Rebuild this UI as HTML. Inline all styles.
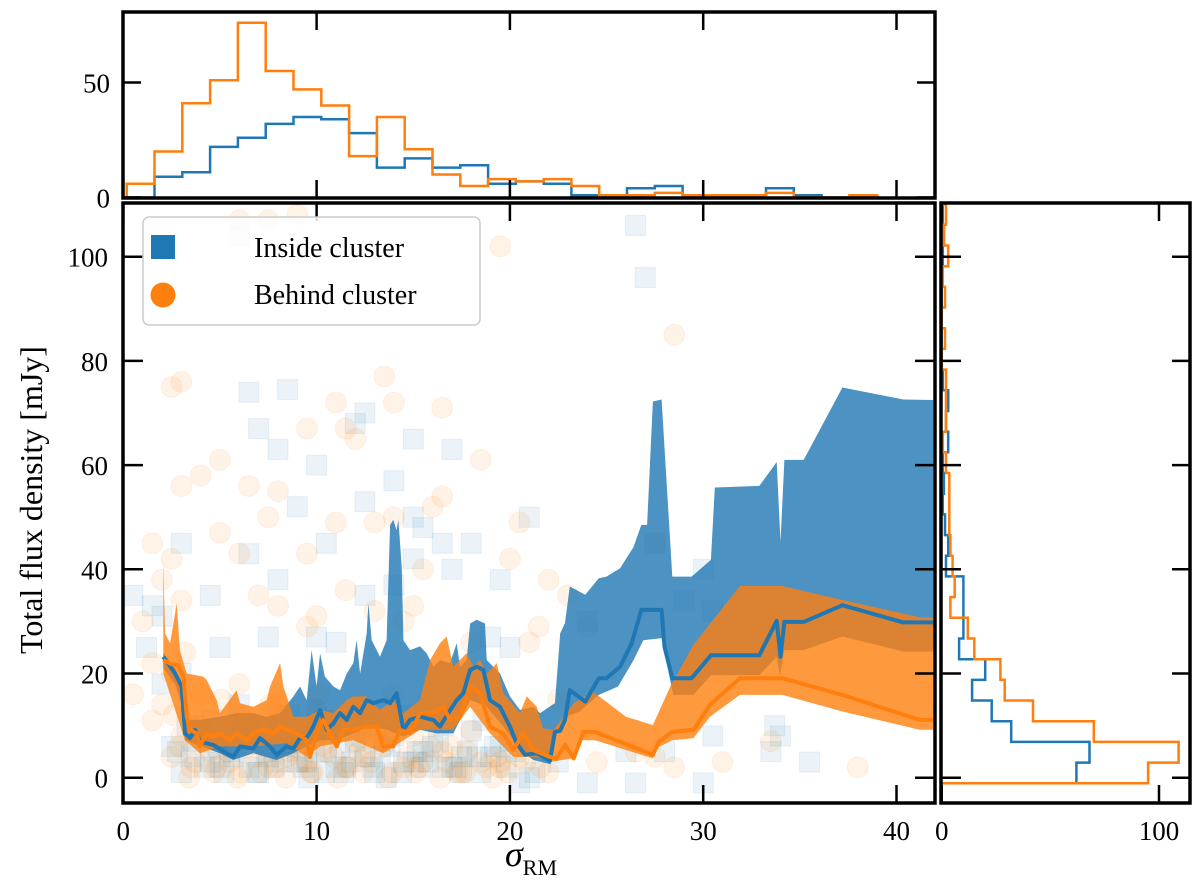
<!DOCTYPE html>
<html><head><meta charset="utf-8"><style>
html,body{margin:0;padding:0;background:#fff}
svg{display:block;font-family:"Liberation Serif",serif}
</style></head><body>
<svg id="chart" width="1200" height="896" viewBox="0 0 1200 896" xmlns="http://www.w3.org/2000/svg">
<defs>
<clipPath id="mainClip"><rect x="123" y="203" width="812" height="600"/></clipPath>
</defs>
<g id="scatterLayer" clip-path="url(#mainClip)"></g>
<g id="bandLayer" clip-path="url(#mainClip)"></g>
<g id="lineLayer" clip-path="url(#mainClip)"></g>
<g id="topHist"></g>
<g id="rightHist"></g>
<g id="axesLayer"></g>

<g>
<rect x="143" y="217" width="337" height="108" rx="6" fill="#fff" fill-opacity="0.85" stroke="#cccccc" stroke-width="1.5"/>
<rect x="151" y="235" width="24" height="24" fill="#1f77b4"/>
<text x="254" y="257" font-size="28">Inside cluster</text>
<circle cx="163" cy="295" r="12.5" fill="#ff7f0e"/>
<text x="254" y="304" font-size="28">Behind cluster</text>
</g>

<text x="0" y="0" transform="translate(42,500) rotate(-90)" text-anchor="middle" font-size="32">Total flux density [mJy]</text>
<text x="505" y="866" font-size="36"><tspan font-style="italic">σ</tspan><tspan font-size="22" dy="9">RM</tspan></text>
</svg>
<script>
// ---------- data ----------
var insideUpperX=[2.07,2.68,3.02,3.19,3.97,5.0,5.86,6.73,7.42,8.11,8.8,9.14,9.49,9.74,10.0,10.18,10.43,10.87,11.21,11.56,11.9,12.07,12.25,12.59,12.68,12.85,13.28,13.62,13.8,13.97,14.14,14.23,14.4,14.49,14.83,15.35,15.69,16.04,16.38,16.9,17.25,17.42,17.76,17.94,18.28,18.71,18.8,19.49,20.0,20.52,21.21,21.56,22.2,22.33,22.6,22.85,23.1,23.9,24.6,25.0,25.7,26.4,26.8,27.1,27.4,27.85,28.4,29.4,30.4,30.6,32.9,33.8,34.0,34.2,35.2,37.2,40.35,41.9];
var insideUpperY=[24,21,18,11.1,11.1,11.7,12.4,12.4,11.7,12.4,15.6,17.5,14.9,24.5,17.5,23.9,19.4,17.5,16.8,20.0,22.0,26.4,20.0,27.7,33.5,26.4,23.2,26.4,48.5,49.5,47.5,49.5,40.5,26.4,24.5,25.2,23.9,21.3,22.6,22.0,25.8,21.3,22.6,29.6,30.3,29.6,22.6,20.0,15.6,13.0,13.6,12.4,14.0,14.3,27.7,29.7,36.7,35.1,38.3,38.6,40.2,44.3,48.5,48.5,72.2,72.6,38.6,38.6,41.8,55.7,56,60.6,45.3,61,61,74.9,72.6,72.5];
var insideLowerX=[2.07,2.68,3.02,3.19,5.0,5.69,6.73,7.93,8.8,9.49,10.18,11.04,11.9,12.76,13.62,14.49,15.35,16.21,17.07,17.94,18.8,19.66,20.52,21.21,22.1,22.33,22.9,23.6,24.6,25.6,26.4,26.9,27.85,28.45,29.5,30.4,32.9,33.8,33.97,34.2,35.2,37.2,40.35,41.9];
var insideLowerY=[21,18,14,7.2,4.7,3.4,4.7,3.4,4.7,6.0,7.2,7.2,8.5,9.8,9.2,7.9,9.2,8.5,8.5,14.9,13.6,9.8,5.3,3.4,2.6,7.9,11.7,12.7,15.9,17.5,22.6,26.4,26.8,15.9,15.9,19.7,19.7,23.2,19.7,24.5,24.5,27.1,24.2,24.2];
var insideMedX=[2.07,2.68,3.02,3.19,3.45,3.71,3.97,4.66,5.35,5.69,6.04,6.73,7.07,7.59,7.93,8.45,8.8,9.14,9.49,9.83,10.18,10.52,10.87,11.21,11.56,11.9,12.25,12.59,12.93,13.45,13.8,14.14,14.49,14.83,15.35,16.04,16.38,16.82,17.25,17.59,17.94,18.28,18.63,18.97,19.49,20.0,20.35,20.78,21.39,22.07,22.33,22.6,22.85,23.1,23.9,24.6,25.0,25.7,26.3,26.8,27.85,28.0,28.4,29.4,30.4,32.9,33.8,34.0,34.2,35.2,37.2,40.35,41.9];
var insideMedY=[23.2,20.0,17.5,8.5,7.6,9.2,6.9,6.3,4.7,4.0,6.0,5.6,7.6,6.0,4.4,6.0,5.6,7.6,7.6,9.8,13.0,9.2,10.4,12.4,11.1,13.6,12.4,14.9,14.3,14.9,14.3,16.2,9.2,11.1,11.7,11.1,9.8,12.4,14.9,16.2,20.7,21.3,20.7,14.9,13.6,9.8,6.6,4.4,4.7,3.2,8.8,9,11.1,16.8,14.6,19.1,19.1,21.3,25.8,32.2,32.2,25.1,19.1,19.1,23.5,23.5,30.1,23.2,29.9,29.9,33.1,29.8,29.8];
var behindUpperX=[2.07,2.16,2.42,2.76,2.93,3.28,4.14,4.31,4.83,5.0,5.86,6.04,6.73,7.42,7.59,8.11,8.28,8.8,9.49,10.18,10.87,11.56,11.9,12.59,13.28,13.97,14.49,15.35,15.87,16.38,16.73,17.07,17.76,18.11,18.45,18.8,19.32,19.66,20.52,20.87,21.39,21.7,22.25,22.8,23.3,24.3,26.0,27.4,28.3,29.5,31.9,34.1,37.2,41.2,41.9];
var behindUpperY=[41.8,27.7,25.8,33.5,24.5,20.0,19.4,18.8,14.9,12.4,16.8,14.3,13.6,14.9,17.5,22.0,17.5,11.7,11.7,13.0,12.4,14.9,15.6,15.6,13.0,14.9,12.4,14.9,22.6,25.8,27.1,21.3,23.9,21.3,22.6,20.0,22.0,16.2,12.4,15.6,13.6,9.5,9.2,11.7,14.3,16.5,11.7,10.1,17.5,25.5,36.8,36.8,34.1,30.8,30.7];
var behindLowerX=[2.07,3.19,3.97,5.0,6.73,8.45,9.49,10.18,11.9,13.45,15.35,17.07,17.94,18.97,20.18,21.39,22.07,23.2,23.7,24.4,27.4,27.7,28.4,29.5,30.35,31.9,34.1,37.2,41.2,41.9];
var behindLowerY=[20,7.2,4.7,6.0,6.0,6.6,4.0,6.0,7.2,4.7,9.2,9.2,13.6,8.5,4.0,4.0,3.0,3.7,7.2,7.2,3.7,5.9,7.2,7.6,11.7,15.9,15.9,12.7,9.2,9.2];
var behindMedX=[2.07,2.42,2.85,3.11,3.28,3.45,3.8,3.97,4.31,4.66,5.0,5.52,5.86,6.38,6.73,7.24,7.76,8.11,8.45,8.97,9.49,9.66,10.0,10.35,10.69,11.04,11.38,11.9,12.59,13.11,13.45,13.97,14.31,14.83,15.35,16.04,16.56,16.9,17.42,17.94,18.45,18.97,19.66,20.18,20.69,21.21,22.07,22.4,22.85,23.3,23.8,24.4,27.4,27.7,28.4,29.5,30.35,31.9,34.1,37.2,41.2,41.9];
var behindMedY=[22.6,21.9,21.6,19.4,11.7,9.2,8.5,6.0,8.5,7.9,8.5,7.2,8.5,7.2,8.5,9.2,8.5,9.8,9.2,8.5,7.2,4.0,8.5,11.1,8.5,6.0,9.2,9.2,9.8,9.8,6.0,6.0,9.2,8.5,12.4,12.4,13.6,11.1,11.7,17.5,16.2,9.8,8.5,5.3,8.5,5.3,4.0,3.7,6.3,3.7,8.8,8.8,4.4,6.9,8.8,9.2,14,19.1,19.1,15.9,11.1,11.1];

var insideScatterX=[6,26.5,27,6.5,8.5,7,12.5,12,8,15,17,10,14,9,12.5,15,15.5,18,16.5,21,10.5,3,6.5,15,17,4.5,8,12.5,14,19.5,20,19,1.5,2,7.5,10,11,5,24,27.5,29,30,30.5,26,28,30.5,33.5,34,35.5,33.7,24,26.5,30,20.5,0.5,3,6,8,2.5,3.5,4.5,5.5,6.5,7.5,8.5,9.5,10.5,11.5,12.5,13.5,14.5,15.5,16.5,17.5,18.5,19.5,3,5,7,9,11,13,15,17,19,21,4,6,8,10,12,14,16,18,20,22.5,2,1.2,
2.8,3.6,4.2,4.9,5.7,6.2,6.9,7.4,8.2,8.9,9.3,9.9,10.4,11.2,11.8,12.3,12.9,13.3,13.8,14.4,15.2,15.8,16.3,17.2,17.8,18.3,19.2,19.8,20.3,21.3,3.3,4.6,6.6,8.6,10.6,12.6,14.6,16.6,18.6,5.2,7.8,9.6,11.4,13.6,15.4,17.4];
var insideScatterY=[104,106,96,74,74.5,67,70,68,63,65,63,60,57,52,53,50,48,45,45,50,45,45,43,42,40,35,38,35,37,38,25,27,33,31,27,27,26,25,30,45,34,40,32,5,5,8,5,8,3,10,-1,-1,-1,-1,35,20,14,12,6,4,3,5,2,4,6,3,5,2,4,7,3,5,2,4,1,6,1,2,1,3,2,1,3,2,4,0,8,9,8,9,7,8,6,9,7,3,18,25,
5,7,2,6,4,8,1,5,3,7,2,5,1,6,3,8,2,4,6,1,5,3,7,2,5,4,6,2,5,1,10,11,10,12,11,10,12,10,11,1,2,0,1,0,2,1];
var behindScatterX=[6,7.5,9,19.5,28.5,13.5,2.5,3,14,16.5,11,9.5,12,11.5,5,4,3,18.5,6.5,8,16,16.5,7.5,11,14,13,20.5,5,6,1.5,2.5,15.5,20,9.5,27.5,2,3,11.5,22,15,8,7,10,13,23,24,1,0.5,2.5,1.5,18,9.5,21,22.5,21.5,14.5,31,33.5,38,24.5,28.5,26.5,27.5,19.5,22,2.5,3.5,4.5,5.5,6.5,7.5,8.5,9.5,10.5,11.5,12.5,13.5,14.5,15.5,16.5,17.5,18.5,19.5,20.5,3,4,5,6,7,8,9,10,11,12,13,14,15,16,17,18,2,4,6,8,10,12,14,1.5,3.2,
2.9,3.7,4.3,4.8,5.4,6.1,6.8,7.3,7.9,8.6,9.2,9.8,10.3,10.9,11.6,12.2,12.8,13.4,13.9,14.7,15.3,15.9,16.7,17.3,17.8,18.8,19.3,19.9,20.8,21.6,3.4,4.7,5.9,7.1,8.4,9.7,11.1,12.4,13.7,15.1,16.4,17.7,19.1,2.6,5.1,7.6,10.1,12.6,15.6];
var behindScatterY=[107,107,108,102,85,77,75,76,72,71,72,67,65,67,61,58,56,61,56,55,52,54,50,49,50,49,49,47,43,45,42,40,42,43,45,38,34,36,38,33,33,35,31,32,35,29,30,16,20,22,26,29,26,15,29,30,3,7,2,3,2,5,4,3,1,4,2,5,3,6,2,4,3,5,2,4,6,2,3,5,1,3,2,4,8,10,7,12,9,11,8,13,10,7,9,11,8,10,6,9,14,16,18,15,13,12,16,11,24,
6,3,7,2,5,1,4,6,2,5,3,1,6,4,2,5,3,7,1,4,2,6,3,1,5,2,4,1,3,2,0,1,0,1,0,1,0,1,0,1,0,1,0,12,15,14,16,13,14];

var topBinStart=0.176, topBinWidth=1.438;
var topInsideCounts=[0,9,11,22,26,32,35,34,28,13,17,13,14,6,7,6,1,1,4,5,0,1,0,4,1,0,0];
var topBehindCounts=[6,20,41,51,76,55,47,40,18,35,21,10,5,8,7,8,5,1,1,2,1,1,1,2,0,0,1];
var rightBinStart=-1.07, rightBinWidth=3.97;
var rightInsideCounts=[62,68,32,23,14,20,8,10,10,10,2,3,1.5,0.5,1,0.5,3,2,3,0.5,0,0,0,0,0,0.5,1,0.5];
var rightBehindCounts=[95,109,70,42,29,27,15,12,4,6,5,4,3.5,3.5,3.5,2,0.5,2,2,2,0,1.5,0,1.5,0.5,3,1,2];

var mainXTicks=[0,10,20,30,40];
var mainYTicks=[0,20,40,60,80,100];
var topYTicks=[0,50];
var rightXTicks=[0,100];

// ---------- scales ----------
function sx(v){return 123.3+v*19.33;}
function sy(v){return 777.7-v*5.21;}
function tyT(v){return 197.5-v*2.3;}
function rx(v){return 941.7+v*2.173;}
var NS="http://www.w3.org/2000/svg";
function mk(tag,parent){var e=document.createElementNS(NS,tag);parent.appendChild(e);return e;}

var scatterLayer=document.getElementById('scatterLayer');
for(var i=0;i<insideScatterX.length;i++){
  var r=mk('rect',scatterLayer);
  r.setAttribute('x',sx(insideScatterX[i])-10);r.setAttribute('y',sy(insideScatterY[i])-10);
  r.setAttribute('width',20);r.setAttribute('height',20);
  r.setAttribute('fill','#1f77b4');r.setAttribute('fill-opacity','0.09');
  r.setAttribute('stroke','#1f77b4');r.setAttribute('stroke-opacity','0.09');
  
  
}
for(var i=0;i<behindScatterX.length;i++){
  var c=mk('circle',scatterLayer);
  c.setAttribute('cx',sx(behindScatterX[i]));c.setAttribute('cy',sy(behindScatterY[i]));
  c.setAttribute('r',10.5);
  c.setAttribute('fill','#ff7f0e');c.setAttribute('fill-opacity','0.1');
  c.setAttribute('stroke','#ff7f0e');c.setAttribute('stroke-opacity','0.08');
  
  
}

function bandPath(ux,uy,lx,ly){
  var d='';
  for(var i=0;i<ux.length;i++){d+=(i?'L':'M')+sx(ux[i]).toFixed(1)+','+sy(uy[i]).toFixed(1);}
  for(var i=lx.length-1;i>=0;i--){d+='L'+sx(lx[i]).toFixed(1)+','+sy(ly[i]).toFixed(1);}
  return d+'Z';
}
function linePath(xs,ys){
  var d='';
  for(var i=0;i<xs.length;i++){d+=(i?'L':'M')+sx(xs[i]).toFixed(1)+','+sy(ys[i]).toFixed(1);}
  return d;
}
var bandLayer=document.getElementById('bandLayer');
var b1=mk('path',bandLayer);
b1.setAttribute('d',bandPath(insideUpperX,insideUpperY,insideLowerX,insideLowerY));
b1.setAttribute('fill','#1f77b4');b1.setAttribute('fill-opacity','0.8');


var b2=mk('path',bandLayer);
b2.setAttribute('d',bandPath(behindUpperX,behindUpperY,behindLowerX,behindLowerY));
b2.setAttribute('fill','#ff7f0e');b2.setAttribute('fill-opacity','0.8');



var lineLayer=document.getElementById('lineLayer');
var l1=mk('path',lineLayer);
l1.setAttribute('d',linePath(insideMedX,insideMedY));
l1.setAttribute('fill','none');l1.setAttribute('stroke','#1f77b4');l1.setAttribute('stroke-width','4');l1.setAttribute('stroke-linejoin','round');


var l2=mk('path',lineLayer);
l2.setAttribute('d',linePath(behindMedX,behindMedY));
l2.setAttribute('fill','none');l2.setAttribute('stroke','#ff7f0e');l2.setAttribute('stroke-width','4');l2.setAttribute('stroke-linejoin','round');



// top histogram
var topHist=document.getElementById('topHist');
function topStep(counts){
  var d='M'+sx(topBinStart).toFixed(1)+','+tyT(0);
  for(var i=0;i<counts.length;i++){
    var x0=sx(topBinStart+i*topBinWidth),x1=sx(topBinStart+(i+1)*topBinWidth),y=tyT(counts[i]);
    d+='L'+x0.toFixed(1)+','+y.toFixed(1)+'L'+x1.toFixed(1)+','+y.toFixed(1);
  }
  d+='L'+sx(topBinStart+counts.length*topBinWidth).toFixed(1)+','+tyT(0);
  return d;
}
var th1=mk('path',topHist);
th1.setAttribute('d',topStep(topInsideCounts));th1.setAttribute('fill','none');th1.setAttribute('stroke','#1f77b4');th1.setAttribute('stroke-width','2.5');


var th2=mk('path',topHist);
th2.setAttribute('d',topStep(topBehindCounts));th2.setAttribute('fill','none');th2.setAttribute('stroke','#ff7f0e');th2.setAttribute('stroke-width','2.5');



// right histogram
var rightHist=document.getElementById('rightHist');
function rightStep(counts){
  var d='M'+rx(0)+','+sy(rightBinStart).toFixed(1);
  for(var i=0;i<counts.length;i++){
    var y0=sy(rightBinStart+i*rightBinWidth),y1=sy(rightBinStart+(i+1)*rightBinWidth),x=rx(counts[i]);
    d+='L'+x.toFixed(1)+','+y0.toFixed(1)+'L'+x.toFixed(1)+','+y1.toFixed(1);
  }
  d+='L'+rx(0)+','+sy(rightBinStart+counts.length*rightBinWidth).toFixed(1);
  return d;
}
var rh1=mk('path',rightHist);
rh1.setAttribute('d',rightStep(rightInsideCounts));rh1.setAttribute('fill','none');rh1.setAttribute('stroke','#1f77b4');rh1.setAttribute('stroke-width','2.5');


var rh2=mk('path',rightHist);
rh2.setAttribute('d',rightStep(rightBehindCounts));rh2.setAttribute('fill','none');rh2.setAttribute('stroke','#ff7f0e');rh2.setAttribute('stroke-width','2.5');



// axes
var ax=document.getElementById('axesLayer');
function line(x1,y1,x2,y2,w,name){
  var l=mk('line',ax);
  l.setAttribute('x1',x1);l.setAttribute('y1',y1);l.setAttribute('x2',x2);l.setAttribute('y2',y2);
  l.setAttribute('stroke','#000');l.setAttribute('stroke-width',w);
  
  
}
function txt(x,y,s,anchor,size,name){
  var t=mk('text',ax);t.setAttribute('x',x);t.setAttribute('y',y);t.setAttribute('text-anchor',anchor);t.setAttribute('font-size',size);t.textContent=s;
  
  
}
function frame(x,y,w,h,name){
  var r=mk('rect',ax);r.setAttribute('x',x);r.setAttribute('y',y);r.setAttribute('width',w);r.setAttribute('height',h);
  r.setAttribute('fill','none');r.setAttribute('stroke','#000');r.setAttribute('stroke-width','3.5');
  
  
}
frame(123,203,812,600,'main-frame');
frame(123,12,812,186,'top-frame');
frame(941,203,249,600,'right-frame');
for(var i=0;i<mainXTicks.length;i++){
  var X=sx(mainXTicks[i]);
  line(X,803,X,785,2.5,'x-tick');
  line(X,203,X,221,2.5,'x-tick-top');
  if(mainXTicks[i]>0){line(X,198,X,180,2.5,'top-x-tick');line(X,12,X,30,2.5,'top-x-tick-top');}
  txt(X,840,String(mainXTicks[i]),'middle',27,'x-tick-label');
}
for(var i=0;i<mainYTicks.length;i++){
  var Y=sy(mainYTicks[i]);
  line(123,Y,143,Y,2.5,'y-tick');
  line(935,Y,915,Y,2.5,'y-tick-right');
  line(941,Y,961,Y,2.5,'right-y-tick');
  line(1190,Y,1172,Y,2.5,'right-y-tick-right');
  txt(108,Y+10,String(mainYTicks[i]),'end',27,'y-tick-label');
}
for(var i=0;i<topYTicks.length;i++){
  var Y=tyT(topYTicks[i]);
  line(123,Y,141,Y,2.5,'top-y-tick');
  line(935,Y,917,Y,2.5,'top-y-tick-right');
  txt(110,Y+10,String(topYTicks[i]),'end',27,'top-y-tick-label');
}
for(var i=0;i<rightXTicks.length;i++){
  var X=rx(rightXTicks[i]);
  line(X,803,X,785,2.5,'right-x-tick');
  line(X,203,X,221,2.5,'right-x-tick-top');
  txt(X,840,String(rightXTicks[i]),'middle',27,'right-x-tick-label');
}
</script>
</body></html>
